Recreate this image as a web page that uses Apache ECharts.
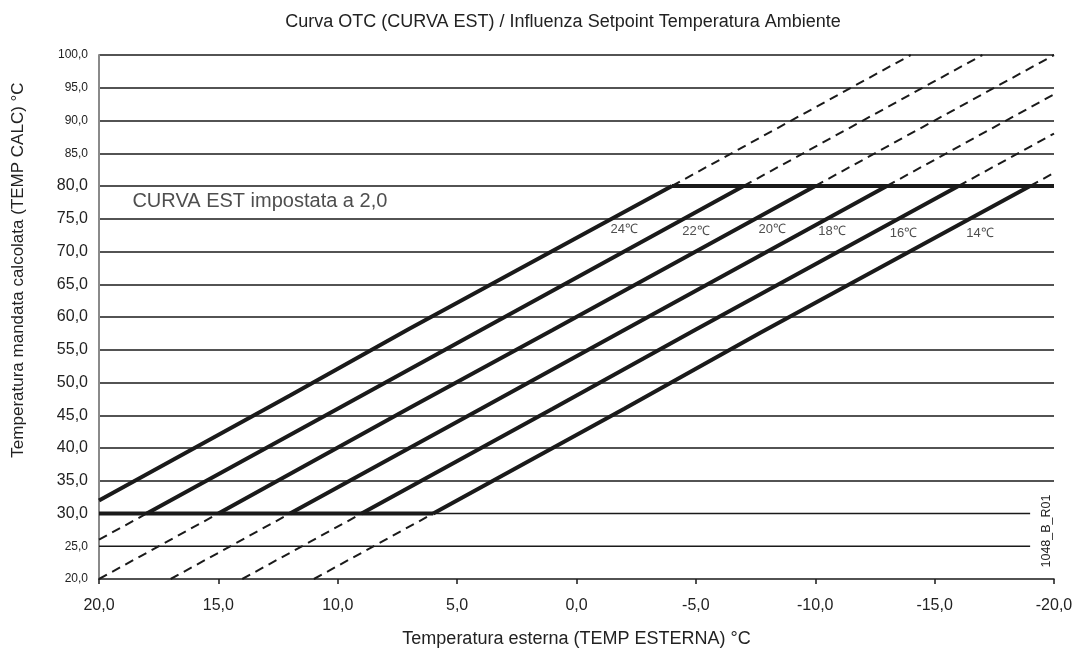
<!DOCTYPE html>
<html>
<head>
<meta charset="utf-8">
<script src="https://cdn.jsdelivr.net/npm/echarts@6/dist/echarts.min.js"></script>
<style>
  html, body { margin: 0; padding: 0; background: #fff; }
  #main { width: 1075px; height: 648px; }
</style>
</head>
<body>
<div id="main"></div>
<script>
// assi
const xTicks = [20, 15, 10, 5, 0, -5, -10, -15, -20]
const yTicks = [20, 25, 30, 35, 40, 45, 50, 55, 60, 65, 70, 75, 80, 85, 90, 95, 100]
const smallYLabels = [20, 25, 85, 90, 95, 100]

// curve (tratto continuo tra 30 e 80 °C)
const curva24 = [[20, 32], [12, 48], [7, 58.2], [-4, 80]]
const curva22 = [[18, 30], [10, 46], [4, 58], [-7, 80]]
const curva20 = [[15, 30], [7, 46.1], [1, 58], [-10, 80]]
const curva18 = [[12, 30], [4, 46], [-2, 58], [-13, 80]]
const curva16 = [[9, 30], [1, 46], [-5, 58.1], [-16, 80]]
const curva14 = [[6, 30], [-2, 46], [-7.7, 57.6], [-19, 80]]

// limiti min / max
const limiteMin = [[20, 30], [6, 30]]
const limiteMax = [[-4, 80], [-20, 80]]

// prolungamenti tratteggiati
const tratteggi = [
  [[20, 26], [18, 30]],
  [[20, 20], [15, 30]],
  [[17, 20], [12, 30]],
  [[14, 20], [9, 30]],
  [[11, 20], [6, 30]],
  [[-4, 80], [-14, 100]],
  [[-7, 80], [-17, 100]],
  [[-10, 80], [-20, 100]],
  [[-13, 80], [-20, 94]],
  [[-16, 80], [-20, 88]],
  [[-19, 80], [-20, 82]]
]

// righe 25 e 30 (più corte, c'è il codice a destra)
const righeCorte = [
  [[20, 25], [-19, 25]],
  [[20, 30], [-19, 30]]
]

// etichette setpoint
const etichette = [
  { name: '24℃', value: [-2.0, 73.4] },
  { name: '22℃', value: [-5.0, 73.1] },
  { name: '20℃', value: [-8.2, 73.3] },
  { name: '18℃', value: [-10.7, 73.0] },
  { name: '16℃', value: [-13.7, 72.8] },
  { name: '14℃', value: [-16.9, 72.8] }
]
const nota = [{ name: 'CURVA EST impostata a 2,0', value: [18.6, 77.6] }]

const fmt = (v) => v.toFixed(1).replace('.', ',')
const nero = '#1a1a1a'

const chartBox = echarts.init(document.getElementById('main'))

const lineaSpessa = (data) => ({
  type: 'line',
  data: data,
  symbol: 'none',
  silent: true,
  lineStyle: { color: nero, width: 4 },
  z: 5
})

const series = []
;[curva24, curva22, curva20, curva18, curva16, curva14, limiteMin, limiteMax].forEach(d => {
  series.push(lineaSpessa(d))
})
tratteggi.forEach(d => {
  series.push({
    type: 'line',
    data: d,
    symbol: 'none',
    silent: true,
    lineStyle: { color: nero, width: 2, type: [9, 6] },
    z: 4
  })
})
righeCorte.forEach(d => {
  series.push({
    type: 'line',
    data: d,
    symbol: 'none',
    silent: true,
    lineStyle: { color: nero, width: 1.5 },
    z: 3
  })
})
series.push({
  type: 'scatter',
  data: etichette,
  symbolSize: 0,
  silent: true,
  label: {
    show: true,
    position: 'inside',
    formatter: '{b}',
    color: '#222',
    fontSize: 13,
    fontFamily: 'Liberation Sans'
  },
  z: 6
})
series.push({
  type: 'scatter',
  data: nota,
  symbolSize: 0,
  silent: true,
  label: {
    show: true,
    position: 'right',
    distance: 0,
    formatter: '{b}',
    color: '#222',
    fontSize: 20,
    fontFamily: 'Liberation Sans'
  },
  z: 6
})

const option = {
  animation: false,
  backgroundColor: '#fff',
  title: {
    text: 'Curva OTC (CURVA EST) / Influenza Setpoint Temperatura Ambiente',
    left: 558,
    top: 8,
    textAlign: 'center',
    textStyle: {
      fontFamily: 'Liberation Sans',
      fontWeight: 'normal',
      fontSize: 18,
      color: '#222'
    }
  },
  grid: {
    left: 99,
    right: 21,
    top: 55,
    bottom: 69,
    outerBoundsMode: 'none'
  },
  xAxis: {
    type: 'value',
    inverse: true,
    min: -20,
    max: 20,
    interval: 5,
    name: 'Temperatura esterna (TEMP ESTERNA) °C',
    nameLocation: 'middle',
    nameGap: 51,
    nameTextStyle: {
      fontFamily: 'Liberation Sans',
      fontSize: 18,
      color: '#222'
    },
    axisLine: { onZero: false, lineStyle: { color: nero, width: 1.5 } },
    axisTick: { show: true, length: 5, lineStyle: { color: nero, width: 1.5 } },
    axisLabel: {
      formatter: fmt,
      margin: 19,
      fontFamily: 'Liberation Sans',
      fontSize: 16,
      color: '#222'
    },
    splitLine: { show: false }
  },
  yAxis: {
    type: 'value',
    min: 20,
    max: 100,
    interval: 5,
    axisLine: { show: true, onZero: false, lineStyle: { color: '#8a8a8a', width: 2 } },
    axisTick: { show: false },
    axisLabel: {
      margin: 11,
      formatter: (v) => smallYLabels.includes(v) ? '{s|' + fmt(v) + '}' : '{b|' + fmt(v) + '}',
      rich: {
        s: { fontFamily: 'Liberation Sans', fontSize: 12, color: '#222' },
        b: { fontFamily: 'Liberation Sans', fontSize: 16, color: '#222' }
      }
    },
    splitLine: {
      show: true,
      lineStyle: {
        color: ['rgba(0,0,0,0)', 'rgba(0,0,0,0)', 'rgba(0,0,0,0)', nero, nero, nero, nero, nero, nero, nero, nero, nero, nero, nero, nero, nero, nero],
        width: 1.5
      }
    }
  },
  graphic: [
    {
      type: 'text',
      x: 18,
      y: 270,
      rotation: Math.PI / 2,
      style: {
        text: 'Temperatura mandata calcolata (TEMP CALC) °C',
        fontFamily: 'Liberation Sans',
        fontSize: 17,
        fill: '#222',
        align: 'center',
        verticalAlign: 'middle'
      }
    },
    {
      type: 'text',
      x: 1047,
      y: 531,
      rotation: Math.PI / 2,
      style: {
        text: '1048_B_R01',
        fontFamily: 'Liberation Sans',
        fontSize: 12.5,
        fill: '#222',
        align: 'center',
        verticalAlign: 'middle'
      }
    }
  ],
  series: series
}
chartBox.setOption(option)
window.addEventListener('resize', function () {
  chartBox.resize()
})
</script>
</body>
</html>
